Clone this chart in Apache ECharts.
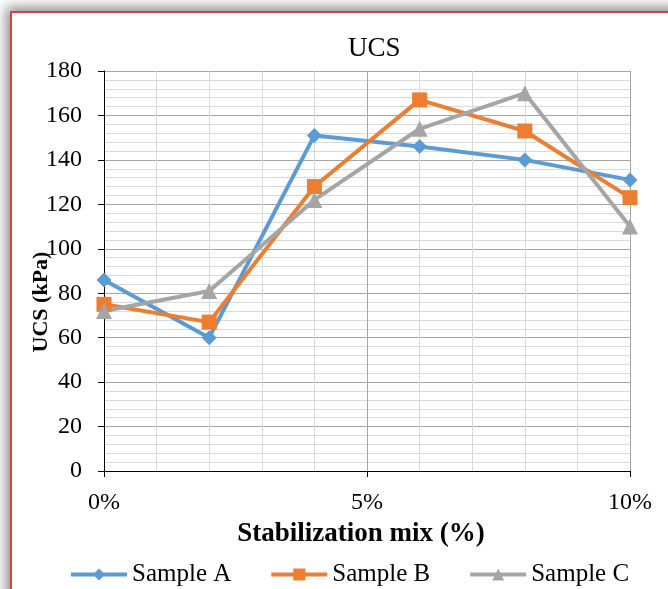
<html>
<head>
    <meta charset="utf-8">
    <title>UCS</title>
    <script src="https://cdn.jsdelivr.net/npm/echarts@6/dist/echarts.min.js"></script>
    <style>
        body { margin: 0; background: #fff; overflow: hidden; }
        #frame {
            position: absolute; left: 10px; top: 11px; width: 720px; height: 640px;
            border: 2px solid #d9413f; background: #fff;
            box-shadow: 0 0 12px 4px rgba(0,0,0,0.45);
        }
        #main { position: absolute; left: 0; top: 0; width: 668px; height: 589px; }
    </style>
</head>
<body>
    <div id="frame"></div>
    <div id="main"></div>
    <script type="text/javascript">
    // stabilization mix in %
    var mix = [0, 2, 4, 6, 8, 10];
    var sampleA = [86, 60, 151, 146, 140, 131];
    var sampleB = [75, 67, 128, 167, 153, 123];
    var sampleC = [72, 81, 122, 154, 170, 110];
    var seriesNames = ['Sample A', 'Sample B', 'Sample C'];
    var xTickLabels = { 0: '0%', 5: '5%', 10: '10%' };

    function pairs(vals) {
        var out = [];
        for (var i = 0; i < mix.length; i++) {
            out.push([mix[i], vals[i]]);
        }
        return out;
    }

    var font = 'Liberation Serif';
    var myChart = echarts.init(document.getElementById('main'));

    var option = {
        animation: false,
        title: {
            text: 'UCS',
            left: 343,
            top: 30,
            textStyle: { fontFamily: font, fontSize: 27, fontWeight: 'normal', color: '#000' }
        },
        legend: {
            data: seriesNames,
            left: 64,
            top: 557,
            itemWidth: 56,
            itemHeight: 15,
            itemGap: 38,
            lineStyle: { width: 4 },
            textStyle: { fontFamily: font, fontSize: 25, color: '#000' }
        },
        grid: {
            left: 104,
            right: 38,
            top: 71,
            bottom: 118
        },
        xAxis: {
            type: 'value',
            min: 0,
            max: 10,
            interval: 5,
            name: 'Stabilization mix (%)',
            nameLocation: 'middle',
            nameGap: 50,
            nameMoveOverlap: false,
            nameTextStyle: { fontFamily: font, fontSize: 27, fontWeight: 'bold', color: '#000', padding: [0, 12, 0, 0] },
            axisLine: { lineStyle: { color: '#000', width: 1 } },
            axisTick: { show: true, length: 6, lineStyle: { color: '#000' } },
            axisLabel: {
                fontFamily: font, fontSize: 24, color: '#000', margin: 20,
                formatter: function (v) { return xTickLabels[v] || ''; }
            },
            splitLine: { show: true, lineStyle: { color: '#a6a6a6', width: 1 } },
            minorTick: { show: false, splitNumber: 5 },
            minorSplitLine: { show: true, lineStyle: { color: '#d9d9d9', width: 1 } }
        },
        yAxis: {
            type: 'value',
            min: 0,
            max: 180,
            interval: 20,
            name: 'UCS (kPa)',
            nameLocation: 'middle',
            nameGap: 52,
            nameMoveOverlap: false,
            nameTextStyle: { fontFamily: font, fontSize: 22, fontWeight: 'bold', color: '#000', padding: [0, 62, 0, 0] },
            axisLine: { show: true, lineStyle: { color: '#000', width: 1 } },
            axisTick: { show: true, length: 6, lineStyle: { color: '#000' } },
            axisLabel: { fontFamily: font, fontSize: 24, color: '#000', margin: 22 },
            splitLine: { show: true, lineStyle: { color: '#a6a6a6', width: 1 } },
            minorTick: { show: false, splitNumber: 5 },
            minorSplitLine: { show: true, lineStyle: { color: '#d9d9d9', width: 1 } }
        },
        series: [{
            name: seriesNames[0],
            type: 'line',
            data: pairs(sampleA),
            symbol: 'diamond',
            symbolSize: 15,
            color: '#5b9bd5',
            lineStyle: { width: 4 }
        }, {
            name: seriesNames[1],
            type: 'line',
            data: pairs(sampleB),
            symbol: 'rect',
            symbolSize: 15,
            color: '#ed7d31',
            lineStyle: { width: 4 }
        }, {
            name: seriesNames[2],
            type: 'line',
            data: pairs(sampleC),
            symbol: 'triangle',
            symbolSize: 16,
            color: '#a5a5a5',
            lineStyle: { width: 4 }
        }]
    };
    myChart.setOption(option);
    </script>
</body>
</html>
